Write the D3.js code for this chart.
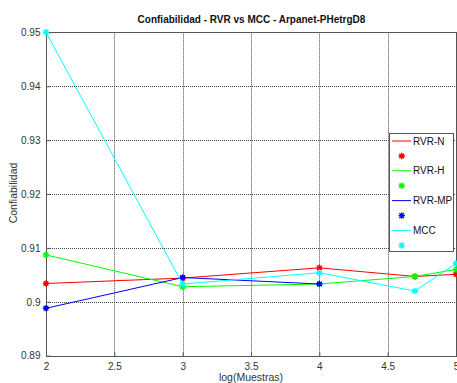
<!DOCTYPE html>
<html>
<head>
<meta charset="utf-8">
<script src="https://cdn.jsdelivr.net/npm/d3@7/dist/d3.min.js"></script>
<style>
  html, body { margin: 0; padding: 0; background: #fff; }
  svg { display: block; font-family: "Liberation Sans", Arial, sans-serif; }
</style>
</head>
<body>
<svg id="chart" width="457" height="383"></svg>
<script>
// x = log10(muestras)
const xRVR = [2, 3, 4, 4.699, 5];
const xMP = [2, 3, 4];
const xMCC = [2, 3, 4, 4.699, 5];

const rvrN = [0.9034, 0.9044, 0.9063, 0.9047, 0.9051];
const rvrH = [0.9087, 0.9028, 0.9033, 0.9047, 0.9060];
const rvrMP = [0.8988, 0.9045, 0.9033];
const mcc = [0.9500, 0.9033, 0.9054, 0.9020, 0.9071];

const seriesNames = ["RVR-N", "RVR-H", "RVR-MP", "MCC"];
const seriesColors = ["#ff0000", "#00ff00", "#0000ff", "#00ffff"];

const xTicks = [2, 2.5, 3, 3.5, 4, 4.5, 5];
const yTicks = [0.89, 0.90, 0.91, 0.92, 0.93, 0.94, 0.95];

const titleText = "Confiabilidad - RVR vs MCC - Arpanet-PHetrgD8";
const xLabelText = "log(Muestras)";
const yLabelText = "Confiabilidad";

const series = [
  { name: seriesNames[0], color: seriesColors[0], xs: xRVR, ys: rvrN },
  { name: seriesNames[1], color: seriesColors[1], xs: xRVR, ys: rvrH },
  { name: seriesNames[2], color: seriesColors[2], xs: xMP, ys: rvrMP },
  { name: seriesNames[3], color: seriesColors[3], xs: xMCC, ys: mcc }
];

const svg = d3.select("#chart");
const plotL = 46, plotR = 456, plotT = 32.3, plotB = 355.7;

const x = d3.scaleLinear().domain([2, 5]).range([plotL, plotR]);
const y = d3.scaleLinear().domain([0.89, 0.95]).range([plotB, plotT]);

// grid
const grid = svg.append("g");
grid.selectAll("line.gx").data(xTicks.slice(1, -1)).join("line")
  .attr("x1", d => Math.round(x(d)) + 0.5).attr("x2", d => Math.round(x(d)) + 0.5)
  .attr("y1", plotT).attr("y2", plotB)
  .attr("stroke", "#444").attr("stroke-width", 1).attr("stroke-dasharray", "1,1");
grid.selectAll("line.gy").data(yTicks.slice(1, -1)).join("line")
  .attr("y1", d => Math.round(y(d)) + 0.5).attr("y2", d => Math.round(y(d)) + 0.5)
  .attr("x1", plotL).attr("x2", plotR)
  .attr("stroke", "#444").attr("stroke-width", 1).attr("stroke-dasharray", "1,1");

// axes
const xAxis = d3.axisBottom(x).tickValues(xTicks).tickSize(-4).tickPadding(6)
  .tickFormat(d => d3.format("~g")(d));
const yAxis = d3.axisLeft(y).tickValues(yTicks).tickSize(-4).tickPadding(6)
  .tickFormat(d => d3.format("~g")(+d.toFixed(2)));

const gx = svg.append("g").attr("transform", `translate(0,${Math.round(plotB) + 0.5})`).call(xAxis);
const gy = svg.append("g").attr("transform", `translate(${plotL + 0.5},0)`).call(yAxis);
[gx, gy].forEach(g => {
  g.select(".domain").remove();
  g.selectAll(".tick line").attr("stroke", "#555");
  g.selectAll(".tick text").attr("fill", "#333").attr("font-size", 10)
    .attr("font-family", "Liberation Sans, Arial, sans-serif");
});

// frame
svg.append("rect")
  .attr("x", plotL + 0.5).attr("y", Math.round(plotT) + 0.5)
  .attr("width", plotR - plotL).attr("height", Math.round(plotB) - Math.round(plotT))
  .attr("fill", "none").attr("stroke", "#555").attr("stroke-width", 1);

// series lines and markers
const line = d3.line().x(d => x(d[0])).y(d => y(d[1]));
function starPath(cx, cy, r) {
  const k = r * 0.72;
  return `M${cx - r},${cy}L${cx + r},${cy}M${cx},${cy - r}L${cx},${cy + r}` +
         `M${cx - k},${cy - k}L${cx + k},${cy + k}M${cx - k},${cy + k}L${cx + k},${cy - k}`;
}

series.forEach(s => {
  const pts = s.xs.map((v, i) => [v, s.ys[i]]);
  svg.append("path").datum(pts)
    .attr("d", line).attr("fill", "none")
    .attr("stroke", s.color).attr("stroke-width", 1);
  svg.append("g").selectAll("path").data(pts).join("path")
    .attr("d", d => starPath(x(d[0]), y(d[1]), 3.2))
    .attr("stroke", s.color).attr("stroke-width", 1.4).attr("fill", "none");
});

// legend
const lg = svg.append("g");
lg.append("rect").attr("x", 389.5).attr("y", 133.5).attr("width", 64).attr("height", 118)
  .attr("fill", "#fff").attr("stroke", "#555").attr("stroke-width", 1);
series.forEach((s, i) => {
  const ly = 141 + i * 29.8;
  lg.append("line").attr("x1", 392).attr("x2", 411).attr("y1", ly).attr("y2", ly)
    .attr("stroke", s.color).attr("stroke-width", 1);
  lg.append("text").attr("x", 413).attr("y", ly + 3.5).attr("font-size", 10)
    .attr("fill", "#111").text(s.name);
  lg.append("path").attr("d", starPath(401.7, ly + 15, 3.2))
    .attr("stroke", s.color).attr("stroke-width", 1.4).attr("fill", "none");
});

// titles
svg.append("text").attr("x", (plotL + plotR) / 2 + 0.5).attr("y", 22.5).attr("text-anchor", "middle")
  .attr("font-size", 10).attr("font-weight", "bold").attr("fill", "#111").text(titleText);
svg.append("text").attr("x", (plotL + plotR) / 2).attr("y", 381).attr("text-anchor", "middle")
  .attr("font-size", 10.5).attr("fill", "#333").text(xLabelText);
svg.append("text").attr("transform", `translate(17,${(plotT + plotB) / 2 - 1}) rotate(-90)`)
  .attr("text-anchor", "middle").attr("font-size", 10.5).attr("fill", "#333").text(yLabelText);
</script>
</body>
</html>
